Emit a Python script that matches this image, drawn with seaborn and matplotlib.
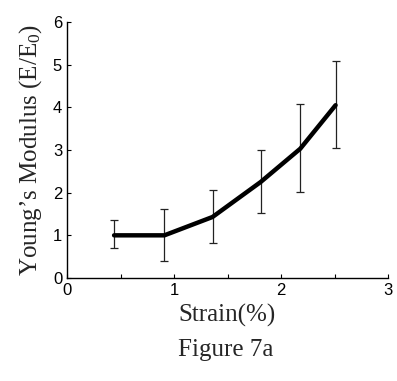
import matplotlib
matplotlib.use("Agg")
import matplotlib.pyplot as plt
import numpy as np
import pandas as pd
import seaborn as sns

# data
strain = [0.44, 0.91, 1.36, 1.81, 2.18, 2.51]
modulus = [1.0, 1.0, 1.43, 2.25, 3.03, 4.05]
err_low = [0.70, 0.40, 0.82, 1.52, 2.01, 3.04]
err_high = [1.35, 1.62, 2.06, 3.00, 4.07, 5.08]
x_ticks = [0, 0.5, 1, 1.5, 2, 2.5, 3]
x_labels = ["0", "", "1", "", "2", "", "3"]
y_ticks = [0, 1, 2, 3, 4, 5, 6]

df = pd.DataFrame({"strain": strain, "modulus": modulus})

sns.set_style("ticks")
plt.rcParams["font.family"] = ["Liberation Sans", "DejaVu Sans"]
plt.rcParams["mathtext.fontset"] = "custom"
plt.rcParams["mathtext.rm"] = "Liberation Serif"
plt.rcParams["mathtext.it"] = "Liberation Serif:italic"

fig = plt.figure(figsize=(3.97, 3.81), dpi=100)
ax = fig.add_axes([67 / 397, 1 - 278 / 381, 321 / 397, 256 / 381])

yerr = [np.array(modulus) - np.array(err_low), np.array(err_high) - np.array(modulus)]
ax.errorbar(strain, modulus, yerr=yerr, fmt="none", ecolor="#222222",
            elinewidth=0.9, capsize=3, capthick=0.9)
sns.lineplot(data=df, x="strain", y="modulus", color="black", linewidth=3.2, ax=ax)

ax.set_xlim(0, 3)
ax.set_ylim(0, 6)
ax.set_xticks(x_ticks)
ax.set_xticklabels(x_labels)
ax.set_yticks(y_ticks)
ax.tick_params(direction="in", length=3, width=0.8, labelsize=12, colors="black")
for s in ["top", "right"]:
    ax.spines[s].set_visible(False)
for s in ["left", "bottom"]:
    ax.spines[s].set_linewidth(1.0)
    ax.spines[s].set_color("black")

serif = ["Liberation Serif", "DejaVu Serif"]
ax.set_xlabel("Strain(%)", family=serif, fontsize=18, labelpad=4)
ax.set_ylabel("Young’s Modulus (E/E$_\\mathrm{0}$)", family=serif, fontsize=18, labelpad=6)
fig.text(226 / 397, 1 - 350 / 381, "Figure 7a", family=serif, fontsize=18,
         ha="center", va="center")

fig.savefig("out.png", dpi=100)
